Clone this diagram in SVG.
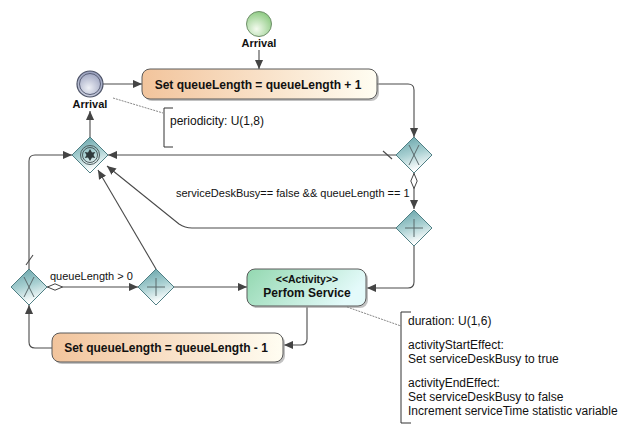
<svg xmlns="http://www.w3.org/2000/svg" width="639" height="434" viewBox="0 0 639 434">
<style>
.lbl{font-family:"Liberation Sans",Arial,sans-serif;font-size:12px;fill:#111}
.clbl{font-family:"Liberation Sans",Arial,sans-serif;font-size:11px;fill:#111}
.bold{font-family:"Liberation Sans",Arial,sans-serif;font-weight:bold;fill:#111}
.conn{fill:none;stroke:#4a4a4a;stroke-width:1.1}
.gw{fill:url(#gwg);stroke:#4f7f84;stroke-width:1}
.mk{stroke:#5a6a6c;stroke-width:1;fill:none}
.note{fill:none;stroke:#333;stroke-width:1}
.dash{fill:none;stroke:#888;stroke-width:1;stroke-dasharray:2,1}
</style>
<defs>
<linearGradient id="gwg" x1="0" y1="0" x2="0.3" y2="1">
<stop offset="0" stop-color="#5f9ea4"/><stop offset="0.55" stop-color="#a9d0d2"/><stop offset="1" stop-color="#ffffff"/>
</linearGradient>
<linearGradient id="org" x1="0" y1="0" x2="1" y2="0">
<stop offset="0" stop-color="#f2c49c"/><stop offset="1" stop-color="#fffdf2"/>
</linearGradient>
<linearGradient id="grn" x1="0" y1="0" x2="1" y2="0.3">
<stop offset="0" stop-color="#93d8b0"/><stop offset="1" stop-color="#e4fafa"/>
</linearGradient>
<radialGradient id="gstart" cx="0.4" cy="0.7" r="0.7">
<stop offset="0" stop-color="#f4fbef"/><stop offset="1" stop-color="#8fcb84"/>
</radialGradient>
<radialGradient id="ggray" cx="0.45" cy="0.65" r="0.7">
<stop offset="0" stop-color="#eef0f6"/><stop offset="1" stop-color="#8e96b6"/>
</radialGradient>
<marker id="arr" viewBox="0 0 10 10" refX="10" refY="5" markerWidth="9" markerHeight="9" markerUnits="userSpaceOnUse" orient="auto">
<path d="M0,0.5 L10,5 L0,9.5 Z" fill="#444"/>
</marker>
<marker id="dia" viewBox="0 0 16 8" refX="0" refY="4" markerWidth="16" markerHeight="8" markerUnits="userSpaceOnUse" orient="auto">
<path d="M0.5,4 L8,0.8 L15.5,4 L8,7.2 Z" fill="#fff" stroke="#444" stroke-width="1"/>
</marker>
</defs>
<rect width="639" height="434" fill="#fff"/>

<g id="connectors">
<path class="conn" d="M259,50 V69" marker-end="url(#arr)"/>
<path class="conn" d="M103,84 H142" marker-end="url(#arr)"/>
<path class="conn" d="M377,84 H408 Q414,84 414,90 V137" marker-end="url(#arr)"/>
<path class="conn" d="M396,155 H108" marker-end="url(#arr)"/>
<line class="conn" x1="383" y1="151" x2="392" y2="159"/>
<path class="conn" d="M414,173 V209" marker-start="url(#dia)" marker-end="url(#arr)"/>
<path class="conn" d="M396,228 H192 Q185,228 179,224 L107,166" marker-end="url(#arr)"/>
<path class="conn" d="M414,246 V282 Q414,288 408,288 H367" marker-end="url(#arr)"/>
<path class="conn" d="M29,269 V161 Q29,155 35,155 H72" marker-end="url(#arr)"/>
<line class="conn" x1="26" y1="265" x2="33" y2="255"/>
<path class="conn" d="M47,287 H138" marker-start="url(#dia)" marker-end="url(#arr)"/>
<path class="conn" d="M174,287 H247" marker-end="url(#arr)"/>
<path class="conn" d="M156,269 L98,170" marker-end="url(#arr)"/>
<path class="conn" d="M307,307 V339 Q307,345 301,345 H284" marker-end="url(#arr)"/>
<path class="conn" d="M52,348 H35 Q29,348 29,342 V305" marker-end="url(#arr)"/>
<path class="conn" d="M90,137 V111" marker-end="url(#arr)"/>
<path class="dash" d="M113,98 L163,113"/>
<path class="dash" d="M347,307 L401,326"/>
</g>

<g id="start-arrival">
<circle cx="259" cy="24" r="12.5" fill="url(#gstart)" stroke="#6f8f6a" stroke-width="1"/>
<text class="bold" x="259" y="47" font-size="11" text-anchor="middle">Arrival</text>
</g>

<g id="timer-arrival">
<circle cx="90" cy="84" r="13" fill="url(#ggray)" stroke="#4e5468" stroke-width="1.2"/>
<circle cx="90" cy="84" r="10.5" fill="none" stroke="#5a6078" stroke-width="1"/>
<text class="bold" x="90" y="108" font-size="11" text-anchor="middle">Arrival</text>
</g>

<g id="task-inc">
<rect x="144" y="71" width="235" height="30" rx="8" fill="#9a9a9a" opacity="0.6"/>
<rect x="142" y="69" width="235" height="30" rx="8" fill="url(#org)" stroke="#5a5a5a" stroke-width="1"/>
<text class="bold" x="258" y="88.5" font-size="12" text-anchor="middle">Set queueLength = queueLength + 1</text>
</g>

<g id="note-periodicity">
<path class="note" d="M173,108 H164 V147 H173"/>
<text class="lbl" x="170" y="125">periodicity: U(1,8)</text>
</g>

<g id="gw-event">
<path class="gw" d="M90,137 L108,155 L90,173 L72,155 Z"/>
<circle cx="90" cy="155" r="9.5" fill="none" stroke="#4c5a5c" stroke-width="1"/>
<circle cx="90" cy="155" r="7.5" fill="none" stroke="#4c5a5c" stroke-width="1"/>
<path d="M90,149 L92,152.5 L95.2,152 L93.5,155 L95.2,158 L92,157.5 L90,161 L88,157.5 L84.8,158 L86.5,155 L84.8,152 L88,152.5 Z" fill="#2f3a3c"/>
</g>

<g id="gw-x1">
<path class="gw" d="M414,137 L432,155 L414,173 L396,155 Z"/>
<path class="mk" d="M409,145 L419,165 M419,145 L409,165"/>
</g>

<g id="gw-plus1">
<path class="gw" d="M414,210 L432,228 L414,246 L396,228 Z"/>
<path class="mk" d="M414,219 V237 M405,228 H423"/>
</g>

<text class="clbl" x="176" y="197">serviceDeskBusy== false &amp;&amp; queueLength == 1</text>

<g id="gw-x2">
<path class="gw" d="M29,269 L47,287 L29,305 L11,287 Z"/>
<path class="mk" d="M24,277 L34,297 M34,277 L24,297"/>
</g>
<text class="clbl" x="50" y="280">queueLength &gt; 0</text>

<g id="gw-plus2">
<path class="gw" d="M156,269 L174,287 L156,305 L138,287 Z"/>
<path class="mk" d="M156,278 V296 M147,287 H165"/>
</g>

<g id="task-service">
<rect x="249" y="271" width="119" height="37" rx="8" fill="#9a9a9a" opacity="0.6"/>
<rect x="247" y="269" width="119" height="37" rx="8" fill="url(#grn)" stroke="#5a5a5a" stroke-width="1"/>
<text class="bold" x="307" y="283" font-size="10.5" text-anchor="middle">&lt;&lt;Activity&gt;&gt;</text>
<text class="bold" x="307" y="297" font-size="12" text-anchor="middle">Perfom Service</text>
</g>

<g id="task-dec">
<rect x="54" y="335" width="231" height="29" rx="8" fill="#9a9a9a" opacity="0.6"/>
<rect x="52" y="333" width="231" height="29" rx="8" fill="url(#org)" stroke="#5a5a5a" stroke-width="1"/>
<text class="bold" x="166" y="352" font-size="12" text-anchor="middle">Set queueLength = queueLength - 1</text>
</g>

<g id="note-service">
<path class="note" d="M411,312 H401 V423 H411"/>
<text class="lbl" x="408" y="325">duration: U(1,6)</text>
<text class="lbl" x="408" y="349">activityStartEffect:</text>
<text class="lbl" x="408" y="363">Set serviceDeskBusy to true</text>
<text class="lbl" x="408" y="387">activityEndEffect:</text>
<text class="lbl" x="408" y="401">Set serviceDeskBusy to false</text>
<text class="lbl" x="408" y="415">Increment serviceTime statistic variable</text>
</g>
</svg>
